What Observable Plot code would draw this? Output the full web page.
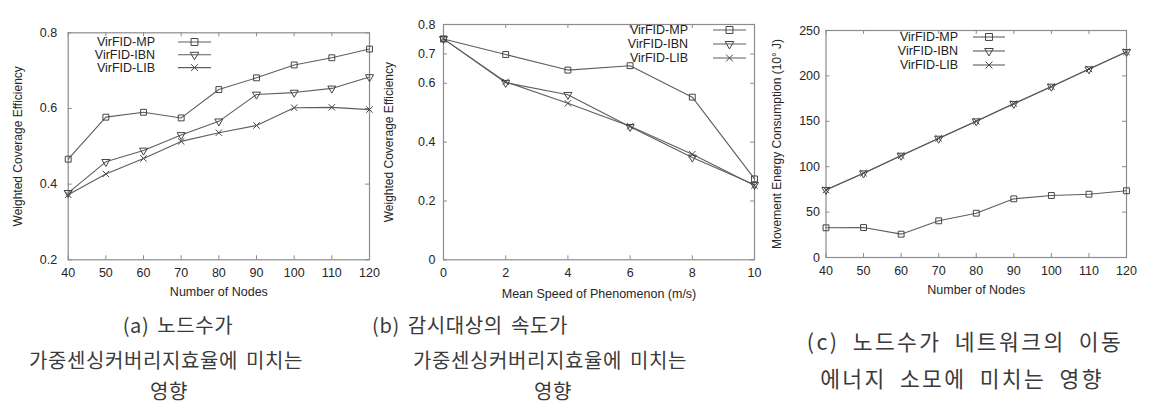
<!DOCTYPE html>
<html><head><meta charset="utf-8">
<script src="https://cdn.jsdelivr.net/npm/d3@7"></script>
<script src="https://cdn.jsdelivr.net/npm/@observablehq/plot@0.6"></script>
<style>
body{margin:0;background:#fff;width:1164px;height:410px;position:relative;overflow:hidden;font-family:"Liberation Sans",Arial,sans-serif;}
.panel{position:absolute;top:0;}
.cap{position:absolute;white-space:nowrap;font-family:"Noto Sans CJK KR",sans-serif;font-size:20px;color:#3a3a3a;letter-spacing:0.6px;word-spacing:3px;transform:translate(-50%,-50%);line-height:1;}
.cap.big{font-size:21.5px;letter-spacing:2.4px;word-spacing:6px;}
</style></head><body>
<div id="pa" class="panel" style="left:0px"></div>
<div id="pb" class="panel" style="left:380px"></div>
<div id="pc" class="panel" style="left:762px"></div>
<div class="cap" style="left:178px;top:325px">(a) 노드수가</div>
<div class="cap" style="left:166px;top:360px">가중센싱커버리지효율에 미치는</div>
<div class="cap" style="left:169px;top:391px">영향</div>
<div class="cap" style="left:470px;top:325px">(b) 감시대상의 속도가</div>
<div class="cap" style="left:550px;top:360px">가중센싱커버리지효율에 미치는</div>
<div class="cap" style="left:553px;top:391px">영향</div>
<div class="cap big" style="left:965px;top:341px">(c) 노드수가 네트워크의 이동</div>
<div class="cap big" style="left:962px;top:378px">에너지 소모에 미치는 영향</div>
<script>
const series = ["VirFID-MP", "VirFID-IBN", "VirFID-LIB"];
const symbols = ["square", "triangle", "times"];
const rotations = [0, 180, 0];

// (a) Number of nodes vs weighted coverage efficiency
const nodesA = [40, 50, 60, 70, 80, 90, 100, 110, 120];
const effA_MP  = [0.466, 0.577, 0.590, 0.575, 0.650, 0.681, 0.715, 0.734, 0.757];
const effA_IBN = [0.377, 0.459, 0.489, 0.530, 0.566, 0.637, 0.642, 0.653, 0.683];
const effA_LIB = [0.372, 0.427, 0.468, 0.513, 0.536, 0.555, 0.602, 0.603, 0.597];
const xTicksA = [40, 50, 60, 70, 80, 90, 100, 110, 120];
const yTicksA = [0.2, 0.4, 0.6, 0.8];

// (b) Mean speed of phenomenon vs weighted coverage efficiency
const speedsB = [0, 2, 4, 6, 8, 10];
const effB_MP  = [0.751, 0.698, 0.645, 0.660, 0.553, 0.275];
const effB_IBN = [0.751, 0.602, 0.561, 0.452, 0.348, 0.255];
const effB_LIB = [0.751, 0.605, 0.532, 0.454, 0.359, 0.253];
const xTicksB = [0, 2, 4, 6, 8, 10];
const yTicksB = [0, 0.2, 0.4, 0.6, 0.7, 0.8];

// (c) Number of nodes vs movement energy consumption
const nodesC = [40, 50, 60, 70, 80, 90, 100, 110, 120];
const enC_MP  = [32.7, 33.0, 25.7, 40.4, 48.8, 64.6, 68.3, 69.7, 73.5];
const enC_IBN = [74.6, 92.8, 112.3, 131.0, 150.1, 169.3, 188.3, 207.4, 226.5];
const enC_LIB = [74.4, 92.9, 112.1, 131.2, 150.0, 169.5, 188.1, 207.6, 226.4];
const xTicksC = [40, 50, 60, 70, 80, 90, 100, 110, 120];
const yTicksC = [0, 50, 100, 150, 200, 250];

function tidy(xs, ys) {
  const out = [];
  ys.forEach((arr, si) => arr.forEach((v, i) => out.push({x: xs[i], y: v, s: series[si]})));
  return out;
}

const GRID = "#8c8c8c";
const LINE = "#5e5e5e";

function chart(o) {
  const pw = o.width - o.ml - o.mr, ph = o.height - o.mt - o.mb;
  const svg = Plot.plot({
    width: o.width, height: o.height,
    marginTop: o.mt, marginBottom: o.mb, marginLeft: o.ml, marginRight: o.mr,
    style: {background: "transparent", fontFamily: "'Liberation Sans', Arial, sans-serif", fontSize: "12.5px", color: "#262626", overflow: "visible"},
    x: {domain: o.xDomain},
    y: {domain: o.yDomain},
    symbol: {domain: series, range: symbols},
    marks: [
      Plot.frame({stroke: GRID, strokeWidth: 1.2}),
      Plot.tickX(o.xTicks, {x: d => d, stroke: GRID, insetTop: ph - 4}),
      Plot.tickX(o.xTicks, {x: d => d, stroke: GRID, insetBottom: ph - 4}),
      Plot.tickY(o.yTicks, {y: d => d, stroke: GRID, insetLeft: pw - 4}),
      Plot.tickY(o.yTicks, {y: d => d, stroke: GRID, insetRight: pw - 4}),
      Plot.axisX({ticks: o.xTicks, tickSize: 0, tickPadding: 8.5, label: null}),
      Plot.axisY({ticks: o.yTicks, tickSize: 0, tickPadding: o.yPad, label: null, tickFormat: o.yFormat}),
      Plot.text([o.xLabel], {frameAnchor: "bottom", dy: o.xTitleDy, textAnchor: "middle", lineAnchor: "middle", fontSize: 12.5}),
      Plot.text([o.yLabel], {frameAnchor: "left", dx: -o.yTitleDx, rotate: -90, textAnchor: "middle", lineAnchor: "middle", fontSize: 12}),
      Plot.line(o.data, {x: "x", y: "y", z: "s", stroke: LINE, strokeWidth: 1.1}),
      Plot.dot(o.data, {x: "x", y: "y", symbol: "s", rotate: d => rotations[series.indexOf(d.s)], r: d => d.s === "VirFID-MP" ? 3.9 : 3.2, stroke: "#444", strokeWidth: 1, fill: "none"})
    ]
  });
  // gnuplot-style key inside the plot area
  const g = d3.select(svg).append("g").attr("font-size", 12.5).attr("fill", "#222");
  series.forEach((name, i) => {
    const y = o.key.y0 + i * o.key.dy;
    g.append("text").attr("x", o.key.textX).attr("y", y).attr("dy", "0.35em").attr("text-anchor", "end").text(name);
    g.append("line").attr("x1", o.key.x1).attr("x2", o.key.x2).attr("y1", y).attr("y2", y).attr("stroke", LINE).attr("stroke-width", 1.1);
    const r = i === 0 ? 3.9 : 3.2;
    const sym = {square: d3.symbolSquare, triangle: d3.symbolTriangle, times: d3.symbolTimes}[symbols[i]];
    g.append("path").attr("d", d3.symbol(sym, r * r * Math.PI)())
      .attr("transform", `translate(${(o.key.x1 + o.key.x2) / 2},${y}) rotate(${rotations[i]})`)
      .attr("fill", "none").attr("stroke", "#444");
  });
  return svg;
}

document.getElementById("pa").append(chart({
  width: 380, height: 300, mt: 32.3, mb: 40.7, ml: 67.7, mr: 11,
  xDomain: [40, 120], yDomain: [0.2, 0.8], xTicks: xTicksA, yTicks: yTicksA,
  yFormat: d => d.toFixed(1), yPad: 11,
  data: tidy(nodesA, [effA_MP, effA_IBN, effA_LIB]),
  xLabel: "Number of Nodes", yLabel: "Weighted Coverage Efficiency", xTitleDy: 32.5, yTitleDx: 50,
  key: {textX: 155, x1: 178, x2: 211, y0: 42, dy: 12.8}
}));

document.getElementById("pb").append(chart({
  width: 382, height: 300, mt: 24, mb: 40.7, ml: 63, mr: 8,
  xDomain: [0, 10], yDomain: [0, 0.8], xTicks: xTicksB, yTicks: yTicksB,
  yFormat: d => d === 0 ? "0" : d.toFixed(1), yPad: 8,
  data: tidy(speedsB, [effB_MP, effB_IBN, effB_LIB]),
  xLabel: "Mean Speed of Phenomenon (m/s)", yLabel: "Weighted Coverage Efficiency", xTitleDy: 34, yTitleDx: 54,
  key: {textX: 308, x1: 333, x2: 366, y0: 30, dy: 14}
}));

document.getElementById("pc").append(chart({
  width: 402, height: 300, mt: 30, mb: 43, ml: 63.5, mr: 38,
  xDomain: [40, 120], yDomain: [0, 250], xTicks: xTicksC, yTicks: yTicksC,
  yFormat: d => String(d), yPad: 6,
  data: tidy(nodesC, [enC_MP, enC_IBN, enC_LIB]),
  xLabel: "Number of Nodes", yLabel: "Movement Energy Consumption (10° J)", xTitleDy: 32.5, yTitleDx: 48.5,
  key: {textX: 196, x1: 211, x2: 243, y0: 37, dy: 14}
}));
</script>
</body></html>
